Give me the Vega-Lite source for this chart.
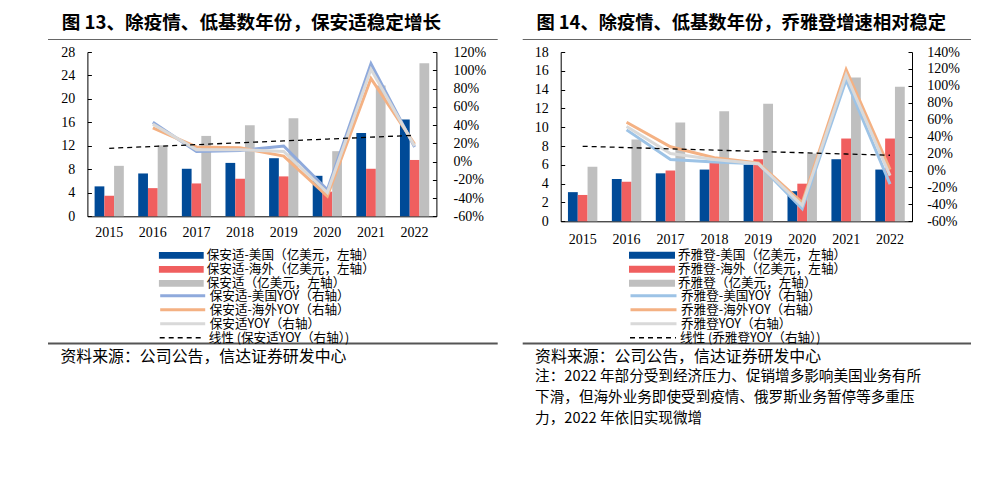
{
  "$schema": "https://vega.github.io/schema/vega-lite/v6.json",
  "background": "white",
  "padding": {"left": 48, "top": 13, "right": 0, "bottom": 0},
  "config": {
    "view": {"stroke": null},
    "axis": {"grid": false, "domainColor": "#000", "tickColor": "#000", "labelColor": "#000", "labelFont": "Liberation Serif", "labelFontSize": 14, "title": null},
    "legend": {"labelFont": "Noto Sans CJK SC", "labelFontSize": 12.6, "labelColor": "#000", "padding": 0, "rowPadding": 0, "labelLimit": 400},
    "title": {"font": "Noto Sans CJK SC", "color": "#000"}
  },
  "datasets": {
    "bars13": [
      {"year": "2015", "series": "保安适-美国（亿美元，左轴）", "value": 5.1},
      {"year": "2016", "series": "保安适-美国（亿美元，左轴）", "value": 7.3},
      {"year": "2017", "series": "保安适-美国（亿美元，左轴）", "value": 8.1},
      {"year": "2018", "series": "保安适-美国（亿美元，左轴）", "value": 9.1},
      {"year": "2019", "series": "保安适-美国（亿美元，左轴）", "value": 9.9},
      {"year": "2020", "series": "保安适-美国（亿美元，左轴）", "value": 6.9},
      {"year": "2021", "series": "保安适-美国（亿美元，左轴）", "value": 14.2},
      {"year": "2022", "series": "保安适-美国（亿美元，左轴）", "value": 16.5},
      {"year": "2015", "series": "保安适-海外（亿美元，左轴）", "value": 3.5},
      {"year": "2016", "series": "保安适-海外（亿美元，左轴）", "value": 4.8},
      {"year": "2017", "series": "保安适-海外（亿美元，左轴）", "value": 5.6},
      {"year": "2018", "series": "保安适-海外（亿美元，左轴）", "value": 6.4},
      {"year": "2019", "series": "保安适-海外（亿美元，左轴）", "value": 6.8},
      {"year": "2020", "series": "保安适-海外（亿美元，左轴）", "value": 4.2},
      {"year": "2021", "series": "保安适-海外（亿美元，左轴）", "value": 8.1},
      {"year": "2022", "series": "保安适-海外（亿美元，左轴）", "value": 9.6},
      {"year": "2015", "series": "保安适（亿美元，左轴）", "value": 8.6},
      {"year": "2016", "series": "保安适（亿美元，左轴）", "value": 12.1},
      {"year": "2017", "series": "保安适（亿美元，左轴）", "value": 13.7},
      {"year": "2018", "series": "保安适（亿美元，左轴）", "value": 15.5},
      {"year": "2019", "series": "保安适（亿美元，左轴）", "value": 16.7},
      {"year": "2020", "series": "保安适（亿美元，左轴）", "value": 11.1},
      {"year": "2021", "series": "保安适（亿美元，左轴）", "value": 22.3},
      {"year": "2022", "series": "保安适（亿美元，左轴）", "value": 26.1}
    ],
    "yoy13": [
      {"year": "2016", "series": "保安适-美国YOY（右轴）", "value": 43},
      {"year": "2017", "series": "保安适-美国YOY（右轴）", "value": 11},
      {"year": "2018", "series": "保安适-美国YOY（右轴）", "value": 12},
      {"year": "2019", "series": "保安适-美国YOY（右轴）", "value": 17},
      {"year": "2020", "series": "保安适-美国YOY（右轴）", "value": -31},
      {"year": "2021", "series": "保安适-美国YOY（右轴）", "value": 107},
      {"year": "2022", "series": "保安适-美国YOY（右轴）", "value": 16},
      {"year": "2016", "series": "保安适-海外YOY（右轴）", "value": 37},
      {"year": "2017", "series": "保安适-海外YOY（右轴）", "value": 16},
      {"year": "2018", "series": "保安适-海外YOY（右轴）", "value": 15},
      {"year": "2019", "series": "保安适-海外YOY（右轴）", "value": 6},
      {"year": "2020", "series": "保安适-海外YOY（右轴）", "value": -38},
      {"year": "2021", "series": "保安适-海外YOY（右轴）", "value": 91},
      {"year": "2022", "series": "保安适-海外YOY（右轴）", "value": 19},
      {"year": "2016", "series": "保安适YOY（右轴）", "value": 41},
      {"year": "2017", "series": "保安适YOY（右轴）", "value": 13},
      {"year": "2018", "series": "保安适YOY（右轴）", "value": 13},
      {"year": "2019", "series": "保安适YOY（右轴）", "value": 11},
      {"year": "2020", "series": "保安适YOY（右轴）", "value": -34},
      {"year": "2021", "series": "保安适YOY（右轴）", "value": 101},
      {"year": "2022", "series": "保安适YOY（右轴）", "value": 17}
    ],
    "trend13": [
      {"year": "2015", "series": "线性 (保安适YOY（右轴）)", "value": 14.5},
      {"year": "2016", "series": "线性 (保安适YOY（右轴）)", "value": 16.5},
      {"year": "2017", "series": "线性 (保安适YOY（右轴）)", "value": 18.5},
      {"year": "2018", "series": "线性 (保安适YOY（右轴）)", "value": 20.6},
      {"year": "2019", "series": "线性 (保安适YOY（右轴）)", "value": 22.6},
      {"year": "2020", "series": "线性 (保安适YOY（右轴）)", "value": 24.6},
      {"year": "2021", "series": "线性 (保安适YOY（右轴）)", "value": 26.7},
      {"year": "2022", "series": "线性 (保安适YOY（右轴）)", "value": 28.7}
    ],
    "bars14": [
      {"year": "2015", "series": "乔雅登-美国（亿美元，左轴）", "value": 3.1},
      {"year": "2016", "series": "乔雅登-美国（亿美元，左轴）", "value": 4.5},
      {"year": "2017", "series": "乔雅登-美国（亿美元，左轴）", "value": 5.1},
      {"year": "2018", "series": "乔雅登-美国（亿美元，左轴）", "value": 5.5},
      {"year": "2019", "series": "乔雅登-美国（亿美元，左轴）", "value": 6.0},
      {"year": "2020", "series": "乔雅登-美国（亿美元，左轴）", "value": 3.2},
      {"year": "2021", "series": "乔雅登-美国（亿美元，左轴）", "value": 6.6},
      {"year": "2022", "series": "乔雅登-美国（亿美元，左轴）", "value": 5.5},
      {"year": "2015", "series": "乔雅登-海外（亿美元，左轴）", "value": 2.8},
      {"year": "2016", "series": "乔雅登-海外（亿美元，左轴）", "value": 4.2},
      {"year": "2017", "series": "乔雅登-海外（亿美元，左轴）", "value": 5.4},
      {"year": "2018", "series": "乔雅登-海外（亿美元，左轴）", "value": 6.2},
      {"year": "2019", "series": "乔雅登-海外（亿美元，左轴）", "value": 6.6},
      {"year": "2020", "series": "乔雅登-海外（亿美元，左轴）", "value": 4.0},
      {"year": "2021", "series": "乔雅登-海外（亿美元，左轴）", "value": 8.8},
      {"year": "2022", "series": "乔雅登-海外（亿美元，左轴）", "value": 8.8},
      {"year": "2015", "series": "乔雅登（亿美元，左轴）", "value": 5.8},
      {"year": "2016", "series": "乔雅登（亿美元，左轴）", "value": 8.7},
      {"year": "2017", "series": "乔雅登（亿美元，左轴）", "value": 10.5},
      {"year": "2018", "series": "乔雅登（亿美元，左轴）", "value": 11.7},
      {"year": "2019", "series": "乔雅登（亿美元，左轴）", "value": 12.5},
      {"year": "2020", "series": "乔雅登（亿美元，左轴）", "value": 7.2},
      {"year": "2021", "series": "乔雅登（亿美元，左轴）", "value": 15.3},
      {"year": "2022", "series": "乔雅登（亿美元，左轴）", "value": 14.3}
    ],
    "yoy14": [
      {"year": "2016", "series": "乔雅登-美国YOY（右轴）", "value": 48},
      {"year": "2017", "series": "乔雅登-美国YOY（右轴）", "value": 13},
      {"year": "2018", "series": "乔雅登-美国YOY（右轴）", "value": 10},
      {"year": "2019", "series": "乔雅登-美国YOY（右轴）", "value": 8},
      {"year": "2020", "series": "乔雅登-美国YOY（右轴）", "value": -45},
      {"year": "2021", "series": "乔雅登-美国YOY（右轴）", "value": 107},
      {"year": "2022", "series": "乔雅登-美国YOY（右轴）", "value": -16},
      {"year": "2016", "series": "乔雅登-海外YOY（右轴）", "value": 57},
      {"year": "2017", "series": "乔雅登-海外YOY（右轴）", "value": 28},
      {"year": "2018", "series": "乔雅登-海外YOY（右轴）", "value": 15},
      {"year": "2019", "series": "乔雅登-海外YOY（右轴）", "value": 9},
      {"year": "2020", "series": "乔雅登-海外YOY（右轴）", "value": -38},
      {"year": "2021", "series": "乔雅登-海外YOY（右轴）", "value": 119},
      {"year": "2022", "series": "乔雅登-海外YOY（右轴）", "value": 1},
      {"year": "2016", "series": "乔雅登YOY（右轴）", "value": 52},
      {"year": "2017", "series": "乔雅登YOY（右轴）", "value": 20},
      {"year": "2018", "series": "乔雅登YOY（右轴）", "value": 13},
      {"year": "2019", "series": "乔雅登YOY（右轴）", "value": 8},
      {"year": "2020", "series": "乔雅登YOY（右轴）", "value": -41},
      {"year": "2021", "series": "乔雅登YOY（右轴）", "value": 113},
      {"year": "2022", "series": "乔雅登YOY（右轴）", "value": -6}
    ],
    "trend14": [
      {"year": "2015", "series": "线性 (乔雅登YOY（右轴）)", "value": 28.6},
      {"year": "2016", "series": "线性 (乔雅登YOY（右轴）)", "value": 27.1},
      {"year": "2017", "series": "线性 (乔雅登YOY（右轴）)", "value": 25.6},
      {"year": "2018", "series": "线性 (乔雅登YOY（右轴）)", "value": 24.1},
      {"year": "2019", "series": "线性 (乔雅登YOY（右轴）)", "value": 22.5},
      {"year": "2020", "series": "线性 (乔雅登YOY（右轴）)", "value": 21.0},
      {"year": "2021", "series": "线性 (乔雅登YOY（右轴）)", "value": 19.5},
      {"year": "2022", "series": "线性 (乔雅登YOY（右轴）)", "value": 18.0}
    ]
  },
  "spacing": 24.7,
  "resolve": {
    "scale": {"x": "independent", "xOffset": "independent", "fill": "independent", "stroke": "independent", "strokeDash": "independent"},
    "legend": {"fill": "independent", "stroke": "independent", "strokeDash": "independent"}
  },
  "hconcat": [
    {
      "columns": 1, "spacing": 5,
      "concat": [
        {
          "width": 449.7, "height": 1,
          "view": {"fill": "#666666", "stroke": null},
          "title": {"text": "图 13、除疫情、低基数年份，保安适稳定增长", "anchor": "start", "frame": "group", "dx": 13.7, "fontSize": 18.6, "fontWeight": "bold", "offset": 6},
          "data": {"values": []},
          "mark": "rule",
          "encoding": {}
        },
        {
          "columns": 1, "spacing": 102.5,
          "concat": [
            {
              "width": 449.7, "height": 164.3,
              "resolve": {"scale": {"y": "independent"}},
              "encoding": {
                "x": {"field": "year", "type": "nominal", "scale": {"range": [39.4, 388.4], "paddingInner": 0.33, "paddingOuter": 0.165}, "axis": {"labelAngle": 0, "ticks": false, "labelPadding": 9}}
              },
              "layer": [
                {
                  "data": {"name": "bars13"},
                  "mark": {"type": "bar"},
                  "encoding": {
                    "xOffset": {"field": "series", "type": "nominal", "scale": {"domain": ["保安适-美国（亿美元，左轴）", "保安适-海外（亿美元，左轴）", "保安适（亿美元，左轴）"], "paddingInner": 0, "paddingOuter": 0}},
                    "y": {"field": "value", "type": "quantitative", "scale": {"domain": [0, 28], "nice": false}, "axis": {"orient": "left", "offset": -39.4, "values": [0, 4, 8, 12, 16, 20, 24, 28], "tickSize": -4, "labelPadding": 16.7}},
                    "fill": {"field": "series", "type": "nominal", "scale": {"domain": ["保安适-美国（亿美元，左轴）", "保安适-海外（亿美元，左轴）", "保安适（亿美元，左轴）"], "range": ["#004a97", "#f05f5f", "#bfbfbf"]},
                      "legend": {"title": null, "orient": "none", "legendX": 110.7, "legendY": 209.5, "symbolType": "M-1,-0.15H1V0.15H-1Z", "symbolSize": 2025, "symbolStrokeWidth": 0, "clipHeight": 13.6, "labelOffset": 3}}
                  }
                },
                {
                  "encoding": {
                    "y": {"field": "value", "type": "quantitative", "scale": {"domain": [-60, 120], "nice": false}, "axis": {"orient": "right", "offset": -61.3, "values": [-60, -40, -20, 0, 20, 40, 60, 80, 100, 120], "labelExpr": "datum.value + '%'", "tickSize": -4, "labelPadding": 20.6}}
                  },
                  "layer": [
                    {
                      "data": {"name": "yoy13"},
                      "mark": {"type": "line", "strokeWidth": 3},
                      "encoding": {
                        "stroke": {"field": "series", "type": "nominal", "scale": {"domain": ["保安适-美国YOY（右轴）", "保安适-海外YOY（右轴）", "保安适YOY（右轴）"], "range": ["#8faadc", "#f4b183", "#d9d9d9"]},
                          "legend": {"title": null, "orient": "none", "legendX": 110.7, "legendY": 249.9, "symbolType": "stroke", "symbolSize": 2025, "symbolStrokeWidth": 3, "clipHeight": 13.6, "labelOffset": 3}}
                      }
                    },
                    {
                      "data": {"name": "trend13"},
                      "mark": {"type": "line", "color": "#000", "strokeWidth": 1.3},
                      "encoding": {
                        "strokeDash": {"field": "series", "type": "nominal", "scale": {"domain": ["线性 (保安适YOY（右轴）)"], "range": [[5, 4]]},
                          "legend": {"title": null, "orient": "none", "legendX": 110.7, "legendY": 291.9, "symbolType": "stroke", "symbolSize": 2025, "symbolStrokeWidth": 1.5, "symbolStrokeColor": "#000", "clipHeight": 13.6, "labelOffset": 3}}
                      }
                    }
                  ]
                }
              ]
            },
            {
              "width": 449.7, "height": 2,
              "view": {"fill": "#555555", "stroke": null},
              "title": {"text": "资料来源：公司公告，信达证券研发中心", "orient": "bottom", "anchor": "start", "frame": "group", "dx": 12.4, "fontSize": 15.9, "fontWeight": "normal", "offset": 4},
              "data": {"values": []},
              "mark": "rule",
              "encoding": {}
            }
          ]
        }
      ]
    },
    {
      "columns": 1, "spacing": 5,
      "concat": [
        {
          "width": 448.3, "height": 1,
          "view": {"fill": "#666666", "stroke": null},
          "title": {"text": "图 14、除疫情、低基数年份，乔雅登增速相对稳定", "anchor": "start", "frame": "group", "dx": 13.7, "fontSize": 18.3, "fontWeight": "bold", "offset": 6},
          "data": {"values": []},
          "mark": "rule",
          "encoding": {}
        },
        {
          "columns": 1, "spacing": 95.5,
          "concat": [
            {
              "width": 448.3, "height": 169.3,
              "resolve": {"scale": {"y": "independent"}},
              "encoding": {
                "x": {"field": "year", "type": "nominal", "scale": {"range": [38, 389.3], "paddingInner": 0.33, "paddingOuter": 0.165}, "axis": {"labelAngle": 0, "ticks": false, "labelPadding": 11}}
              },
              "layer": [
                {
                  "data": {"name": "bars14"},
                  "mark": {"type": "bar"},
                  "encoding": {
                    "xOffset": {"field": "series", "type": "nominal", "scale": {"domain": ["乔雅登-美国（亿美元，左轴）", "乔雅登-海外（亿美元，左轴）", "乔雅登（亿美元，左轴）"], "paddingInner": 0, "paddingOuter": 0}},
                    "y": {"field": "value", "type": "quantitative", "scale": {"domain": [0, 18], "nice": false}, "axis": {"orient": "left", "offset": -38, "values": [0, 2, 4, 6, 8, 10, 12, 14, 16, 18], "tickSize": -4, "labelPadding": 16.4}},
                    "fill": {"field": "series", "type": "nominal", "scale": {"domain": ["乔雅登-美国（亿美元，左轴）", "乔雅登-海外（亿美元，左轴）", "乔雅登（亿美元，左轴）"], "range": ["#004a97", "#f05f5f", "#bfbfbf"]},
                      "legend": {"title": null, "orient": "none", "legendX": 106.3, "legendY": 209.5, "symbolType": "M-1,-0.15H1V0.15H-1Z", "symbolSize": 2116, "symbolStrokeWidth": 0, "clipHeight": 13.6, "labelOffset": 3}}
                  }
                },
                {
                  "encoding": {
                    "y": {"field": "value", "type": "quantitative", "scale": {"domain": [-60, 140], "nice": false}, "axis": {"orient": "right", "offset": -59, "values": [-60, -40, -20, 0, 20, 40, 60, 80, 100, 120, 140], "labelExpr": "datum.value + '%'", "tickSize": -4, "labelPadding": 18.7}}
                  },
                  "layer": [
                    {
                      "data": {"name": "yoy14"},
                      "mark": {"type": "line", "strokeWidth": 3},
                      "encoding": {
                        "stroke": {"field": "series", "type": "nominal", "scale": {"domain": ["乔雅登-美国YOY（右轴）", "乔雅登-海外YOY（右轴）", "乔雅登YOY（右轴）"], "range": ["#9dc3e6", "#f4b183", "#d9d9d9"]},
                          "legend": {"title": null, "orient": "none", "legendX": 106.3, "legendY": 249.9, "symbolType": "stroke", "symbolSize": 2116, "symbolStrokeWidth": 3, "clipHeight": 13.6, "labelOffset": 3}}
                      }
                    },
                    {
                      "data": {"name": "trend14"},
                      "mark": {"type": "line", "color": "#000", "strokeWidth": 1.3},
                      "encoding": {
                        "strokeDash": {"field": "series", "type": "nominal", "scale": {"domain": ["线性 (乔雅登YOY（右轴）)"], "range": [[5, 4]]},
                          "legend": {"title": null, "orient": "none", "legendX": 106.3, "legendY": 291.9, "symbolType": "stroke", "symbolSize": 2116, "symbolStrokeWidth": 1.5, "symbolStrokeColor": "#000", "clipHeight": 13.6, "labelOffset": 3}}
                      }
                    }
                  ]
                }
              ]
            },
            {
              "width": 448.3, "height": 2,
              "view": {"fill": "#555555", "stroke": null},
              "title": {"text": "资料来源：公司公告，信达证券研发中心", "subtitle": ["注：2022 年部分受到经济压力、促销增多影响美国业务有所", "下滑，但海外业务即使受到疫情、俄罗斯业务暂停等多重压", "力，2022 年依旧实现微增"], "orient": "bottom", "anchor": "start", "frame": "group", "dx": 12.4, "fontSize": 15.9, "fontWeight": "normal", "offset": 4, "subtitleFont": "Noto Sans CJK SC", "subtitleFontSize": 14.6, "subtitleColor": "#000", "subtitleLineHeight": 21, "subtitlePadding": 5},
              "data": {"values": []},
              "mark": "rule",
              "encoding": {}
            }
          ]
        }
      ]
    }
  ]
}
